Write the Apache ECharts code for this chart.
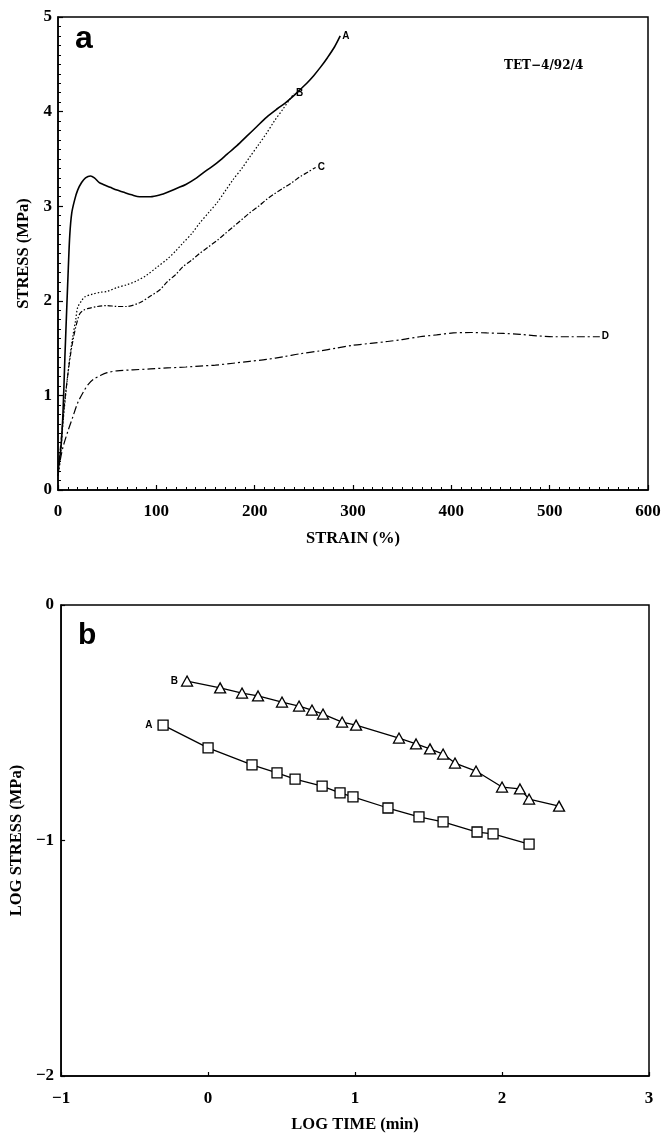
<!DOCTYPE html>
<html><head><meta charset="utf-8">
<script src="https://cdn.jsdelivr.net/npm/echarts@6/dist/echarts.min.js"></script>
<style>html,body{margin:0;padding:0;background:#fff}#c{width:666px;height:1135px}</style>
</head><body><div id="c"></div>
<script>
// ---- Panel a: stress-strain curves [strain %, stress MPa]
const curveA = [[0,0.2],[3,0.45],[5,0.8],[7,1.4],[9,1.95],[10.5,2.35],[12,2.7],[14,2.93],[17,3.07],[20,3.17],[24,3.25],[28,3.3],[33,3.32],[37,3.3],[42,3.25],[46,3.23],[53,3.2],[60,3.17],[66,3.15],[75,3.12],[83,3.1],[94,3.1],[104,3.12],[112,3.15],[121,3.19],[130,3.23],[141,3.3],[150,3.37],[162,3.46],[172,3.55],[182,3.64],[192,3.74],[202,3.84],[212,3.94],[223,4.03],[231,4.09],[239,4.16],[246,4.23],[253,4.3],[260,4.38],[267,4.47],[274,4.57],[281,4.68],[287,4.8]];
const curveB = [[0,0.15],[2,0.3],[5,0.7],[9,1.13],[12,1.4],[15,1.62],[18,1.8],[20,1.93],[24,2.0],[27,2.04],[35,2.07],[43,2.09],[50,2.1],[60,2.14],[70,2.17],[80,2.21],[90,2.27],[100,2.35],[111,2.44],[120,2.53],[127,2.61],[136,2.71],[144,2.82],[153,2.93],[162,3.04],[170,3.16],[178,3.28],[187,3.4],[195,3.52],[204,3.65],[212,3.77],[220,3.9],[229,4.03],[235,4.12],[240,4.19]];
const curveC = [[0,0.2],[2,0.4],[4,0.62],[7,0.95],[10,1.22],[13,1.45],[15,1.57],[18,1.72],[22,1.86],[26,1.9],[31,1.92],[40,1.94],[50,1.95],[60,1.94],[70,1.94],[83,1.98],[94,2.05],[104,2.12],[111,2.2],[120,2.28],[127,2.36],[136,2.43],[144,2.5],[153,2.57],[162,2.64],[170,2.71],[178,2.78],[187,2.86],[195,2.93],[204,3.0],[212,3.07],[220,3.13],[229,3.19],[238,3.25],[246,3.31],[254,3.36],[262,3.41]];
const curveD = [[0,0.15],[2,0.3],[5,0.45],[10,0.62],[15,0.77],[20,0.92],[26,1.04],[31,1.12],[36,1.17],[43,1.21],[50,1.24],[60,1.26],[76,1.27],[94,1.28],[111,1.29],[130,1.3],[144,1.31],[160,1.32],[178,1.34],[195,1.36],[212,1.38],[230,1.41],[246,1.44],[266,1.47],[283,1.5],[300,1.53],[318,1.55],[335,1.57],[350,1.59],[368,1.62],[385,1.64],[402,1.66],[420,1.665],[436,1.66],[453,1.655],[470,1.645],[487,1.63],[504,1.62],[520,1.62],[536,1.62],[551,1.62]];
const curveNames = ['A','B','C','D'];

// ---- Panel b: log stress vs log time [log t, log stress]
const logA = [[-0.306,-0.51],[0.0,-0.607],[0.299,-0.679],[0.469,-0.713],[0.592,-0.739],[0.776,-0.769],[0.898,-0.798],[0.986,-0.815],[1.224,-0.862],[1.435,-0.9],[1.599,-0.921],[1.83,-0.964],[1.939,-0.972],[2.184,-1.015]];
const logB = [[-0.143,-0.323],[0.082,-0.352],[0.231,-0.374],[0.34,-0.386],[0.503,-0.412],[0.619,-0.429],[0.707,-0.446],[0.782,-0.463],[0.912,-0.497],[1.007,-0.51],[1.299,-0.565],[1.415,-0.59],[1.51,-0.611],[1.599,-0.633],[1.68,-0.671],[1.823,-0.705],[2.0,-0.773],[2.122,-0.781],[2.184,-0.824],[2.388,-0.854]];

const SERIF = 'Liberation Serif';
const SANS = 'Liberation Sans';
const lblStyle = {color:'#000', fontSize:17, fontWeight:'bold', fontFamily:SERIF};
const nameStyle = {color:'#000', fontSize:16.5, fontWeight:'bold', fontFamily:SERIF};
const axLine = {show:true, onZero:false, lineStyle:{color:'#000', width:1.5}};
const minus = v => String(v).replace('-', '\u2212');

function endLbl(t){
  return {show:true, formatter:t, distance:2, color:'#000', fontSize:10, fontWeight:'bold', fontFamily:SANS};
}
function firstLbl(arr, t, dist){
  return arr.map((v,i)=> i===0 ? {value:v, label:{show:true, position:'left', distance:dist, formatter:t, color:'#000', fontSize:10, fontWeight:'bold', fontFamily:SANS}} : v);
}

const chart = echarts.init(document.getElementById('c'), null, {renderer:'canvas'});
chart.setOption({
  animation:false,
  backgroundColor:'#fff',
  title:[
    {text:'a', left:70, top:18, textStyle:{fontSize:32, fontWeight:'bold', fontFamily:SANS, color:'#000'}},
    {text:'b', left:73, top:616, textStyle:{fontSize:30, fontWeight:'bold', fontFamily:SANS, color:'#000'}},
    {text:'TET\u22124/92/4', left:499, top:55, textStyle:{fontSize:12, fontWeight:'bold', fontFamily:'DejaVu Serif', color:'#000'}}
  ],
  grid:[
    {left:58, top:17, width:590, height:473, show:true, borderColor:'#000', borderWidth:1.5, backgroundColor:'transparent'},
    {left:61, top:605, width:588, height:471, show:true, borderColor:'#000', borderWidth:1.5, backgroundColor:'transparent'}
  ],
  xAxis:[
    {gridIndex:0, type:'value', min:0, max:600, interval:100,
     axisLine:axLine,
     axisTick:{inside:true, length:5, lineStyle:{color:'#000', width:1.2}},
     minorTick:{show:true, splitNumber:10, length:3, lineStyle:{color:'#000', width:1}},
     splitLine:{show:false}, minorSplitLine:{show:false},
     axisLabel:Object.assign({margin:13}, lblStyle),
     name:'STRAIN (%)', nameLocation:'middle', nameGap:40, nameTextStyle:nameStyle},
    {gridIndex:1, type:'value', min:-1, max:3, interval:1,
     axisLine:axLine,
     axisTick:{inside:true, length:4, lineStyle:{color:'#000', width:1.2}},
     splitLine:{show:false},
     axisLabel:Object.assign({margin:14, formatter:minus}, lblStyle),
     name:'LOG TIME (min)', nameLocation:'middle', nameGap:40, nameTextStyle:nameStyle}
  ],
  yAxis:[
    {gridIndex:0, type:'value', min:0, max:5, interval:1,
     axisLine:axLine,
     axisTick:{inside:true, length:5, lineStyle:{color:'#000', width:1.2}},
     minorTick:{show:true, splitNumber:10, length:3, lineStyle:{color:'#000', width:1}},
     splitLine:{show:false}, minorSplitLine:{show:false},
     axisLabel:Object.assign({margin:6}, lblStyle),
     name:'STRESS (MPa)', nameLocation:'middle', nameGap:23, nameTextStyle:nameStyle},
    {gridIndex:1, type:'value', min:-2, max:0, interval:1,
     axisLine:axLine,
     axisTick:{inside:true, length:4, lineStyle:{color:'#000', width:1.2}},
     splitLine:{show:false},
     axisLabel:Object.assign({margin:7, formatter:minus}, lblStyle),
     name:'LOG STRESS (MPa)', nameLocation:'middle', nameGap:28, nameTextStyle:nameStyle}
  ],
  series:[
    {type:'line', xAxisIndex:0, yAxisIndex:0, data:curveA, symbol:'none', smooth:0.3,
     lineStyle:{color:'#000', width:1.6}, endLabel:endLbl(curveNames[0])},
    {type:'line', xAxisIndex:0, yAxisIndex:0, data:curveB, symbol:'none', smooth:0.3,
     lineStyle:{color:'#000', width:1.2, type:[1.5,2]}, endLabel:endLbl(curveNames[1])},
    {type:'line', xAxisIndex:0, yAxisIndex:0, data:curveC, symbol:'none', smooth:0.3,
     lineStyle:{color:'#000', width:1.2, type:[5,2,1.5,2]}, endLabel:endLbl(curveNames[2])},
    {type:'line', xAxisIndex:0, yAxisIndex:0, data:curveD, symbol:'none', smooth:0.3,
     lineStyle:{color:'#000', width:1.2, type:[8,3,2,3]}, endLabel:endLbl(curveNames[3])},
    {type:'line', xAxisIndex:1, yAxisIndex:1, data:firstLbl(logA,'A',5), symbol:'rect', symbolSize:10,
     lineStyle:{color:'#000', width:1.3}, itemStyle:{color:'#fff', borderColor:'#000', borderWidth:1.3}},
    {type:'line', xAxisIndex:1, yAxisIndex:1, data:firstLbl(logB,'B',3), symbol:'triangle', symbolSize:[11,10],
     lineStyle:{color:'#000', width:1.3}, itemStyle:{color:'#fff', borderColor:'#000', borderWidth:1.3}}
  ]
});
</script>
</body></html>
